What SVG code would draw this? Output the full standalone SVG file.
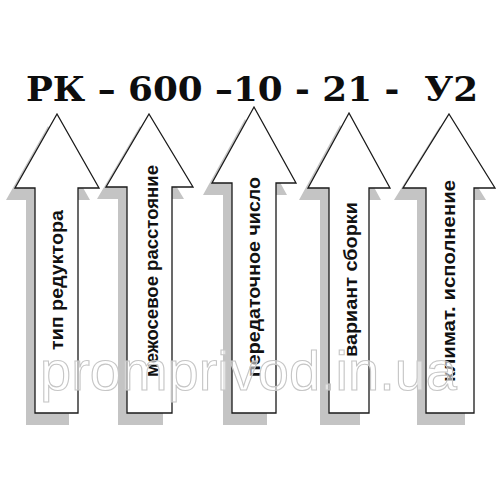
<svg xmlns="http://www.w3.org/2000/svg" width="500" height="500" viewBox="0 0 500 500">
<style>
.shadow{fill:#c4c4c4;stroke:none}
.arrow{fill:#ffffff;stroke:#1a1a1a;stroke-width:1.3;stroke-linejoin:miter}
.lbl{font-family:"Liberation Sans",Arial,sans-serif;font-size:19px;font-weight:bold;fill:#111}
.title{font-family:"DejaVu Serif","Liberation Serif",serif;font-weight:bold;font-size:33px;fill:#0d0d0d;white-space:pre}
.wm{font-family:"Liberation Sans",Arial,sans-serif;font-size:56px;fill:#ffffff;fill-opacity:0.55;stroke:#c6c6c6;stroke-width:1.1}
</style>
<rect width="500" height="500" fill="#ffffff"/>
<g id="title">
<text class="title" x="26" y="101" textLength="452" lengthAdjust="spacingAndGlyphs">РК – 600 –10 - 21 -  У2</text>
</g>
<g id="arrow1">
<path class="shadow" transform="translate(-9,12)" d="M57,114 L99,188 L78,188 L78,413 L35,413 L35,188 L15,188 Z"/>
<path class="arrow" d="M57,114 L99,188 L78,188 L78,413 L35,413 L35,188 L15,188 Z"/>
<text class="lbl" transform="translate(63,350) rotate(-90)" textLength="140" lengthAdjust="spacingAndGlyphs">тип редуктора</text>
</g>
<g id="arrow2">
<path class="shadow" transform="translate(-9,12)" d="M149,114 L193,187 L172,187 L172,413 L127,413 L127,187 L106,187 Z"/>
<path class="arrow" d="M149,114 L193,187 L172,187 L172,413 L127,413 L127,187 L106,187 Z"/>
<text class="lbl" transform="translate(158,377) rotate(-90)" textLength="212" lengthAdjust="spacingAndGlyphs">межосевое расстояние</text>
</g>
<g id="arrow3">
<path class="shadow" transform="translate(-9,12)" d="M254,107 L296,183 L276,183 L276,413 L232,413 L232,183 L212,183 Z"/>
<path class="arrow" d="M254,107 L296,183 L276,183 L276,413 L232,413 L232,183 L212,183 Z"/>
<text class="lbl" transform="translate(260,377) rotate(-90)" textLength="200" lengthAdjust="spacingAndGlyphs">передаточное число</text>
</g>
<g id="arrow4">
<path class="shadow" transform="translate(-9,12)" d="M349,113 L390,188 L369,188 L369,413 L329,413 L329,188 L308,188 Z"/>
<path class="arrow" d="M349,113 L390,188 L369,188 L369,413 L329,413 L329,188 L308,188 Z"/>
<text class="lbl" transform="translate(357,357) rotate(-90)" textLength="155" lengthAdjust="spacingAndGlyphs">вариант сборки</text>
</g>
<g id="arrow5">
<path class="shadow" transform="translate(-9,12)" d="M449,114 L495,188 L474,188 L474,413 L426,413 L426,188 L403,188 Z"/>
<path class="arrow" d="M449,114 L495,188 L474,188 L474,413 L426,413 L426,188 L403,188 Z"/>
<text class="lbl" transform="translate(455,382) rotate(-90)" textLength="202" lengthAdjust="spacingAndGlyphs">климат. исполнение</text>
</g>
<g id="connectors"></g>
<g id="watermark">
<text class="wm" x="40" y="390" textLength="417" lengthAdjust="spacingAndGlyphs">promprivod.in.ua</text>
</g>
</svg>
